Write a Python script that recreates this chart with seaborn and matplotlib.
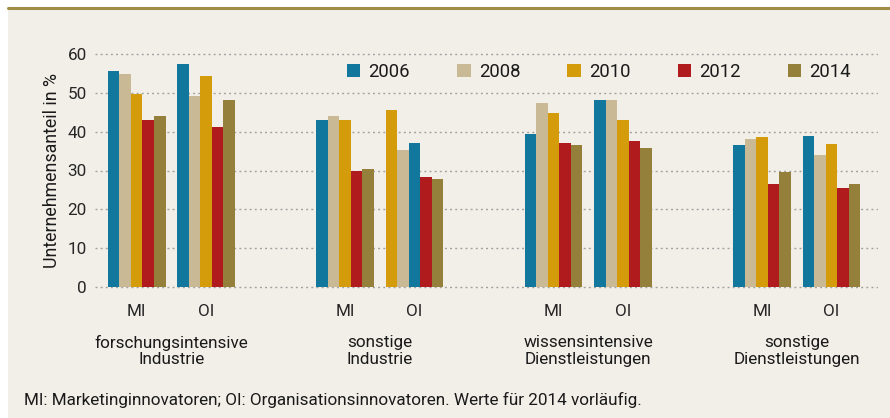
import matplotlib
matplotlib.use("Agg")
import matplotlib.pyplot as plt
from matplotlib.patches import Patch, Rectangle
from matplotlib.lines import Line2D
import seaborn as sns
import pandas as pd

# ---------------- data ----------------
categories = ["forschungsintensive\nIndustrie", "sonstige\nIndustrie",
              "wissensintensive\nDienstleistungen", "sonstige\nDienstleistungen"]
innov_types = ["MI", "OI"]
years = ["2006", "2008", "2010", "2012", "2014"]

# order of groups: fI-MI, fI-OI, sI-MI, sI-OI, wD-MI, wD-OI, sD-MI, sD-OI
v2006 = [55.5, 57.3, 42.9, 37.0, 39.3, 48.1, 36.5, 38.8]
v2008 = [54.9, 49.3, 43.9, 35.2, 47.5, 48.1, 38.0, 34.1]
v2010 = [49.8, 54.2, 42.9, 45.7, 44.7, 42.9, 38.5, 36.7]
v2012 = [43.1, 41.3, 30.0, 28.2, 37.0, 37.5, 26.4, 25.4]
v2014 = [44.1, 48.2, 30.5, 27.9, 36.5, 35.7, 29.5, 26.4]

# bar order inside each group (the original draws one group in a different order)
slot_orders = [years, years, years, ["2010", "2008", "2006", "2012", "2014"],
               years, years, years, years]

year_colors = {"2006": "#11779c", "2008": "#c9b994", "2010": "#d49c0b",
               "2012": "#b01c1e", "2014": "#94803a"}

footnote = "MI: Marketinginnovatoren; OI: Organisationsinnovatoren. Werte für 2014 vorläufig."
ylabel = "Unternehmensanteil in %"

# ---------------- build table ----------------
values = {"2006": v2006, "2008": v2008, "2010": v2010, "2012": v2012, "2014": v2014}
group_keys = [f"{c}|{t}" for c in range(len(categories)) for t in innov_types]
order = []
for c in range(len(categories)):
    order += [f"{c}|{t}" for t in innov_types]
    if c < len(categories) - 1:
        order.append(f"gap{c}")

rows = []
for gi, key in enumerate(group_keys):
    for slot, yr in enumerate(slot_orders[gi]):
        rows.append({"group": key, "slot": slot, "year": yr, "value": values[yr][gi]})
df = pd.DataFrame(rows)

# ---------------- style ----------------
BG = "#f2efe8"
sns.set_theme(style="white")
plt.rcParams["font.family"] = ["Roboto", "DejaVu Sans"]
plt.rcParams["text.color"] = "#1a1a1a"

fig = plt.figure(figsize=(8.9, 4.18), dpi=100)
fig.patch.set_facecolor("white")
W, H = 890, 418
# beige panel + olive top rule
fig.patches.append(Rectangle((8 / W, 0), 1 - 8 / W, 1 - 9 / H, transform=fig.transFigure,
                             facecolor=BG, edgecolor="none", zorder=-10))
fig.lines.append(Line2D([8 / W, 1], [1 - 7.5 / H, 1 - 7.5 / H], transform=fig.transFigure,
                        color="#a08c45", lw=2.2, zorder=-5))

ax = fig.add_axes([95 / W, 1 - 289 / H, (878 - 95) / W, (289 - 52) / H])
ax.set_facecolor("none")
ax.set_zorder(5)

sns.barplot(data=df, x="group", y="value", hue="slot", order=order,
            hue_order=list(range(5)), width=0.83, dodge=True, ax=ax,
            errorbar=None, saturation=1, legend=False, zorder=3)

# colour each bar by its year
for slot, cont in enumerate(ax.containers):
    for bar, key in zip(cont.patches, [k for k in order if not k.startswith("gap")]):
        yr = df[(df.group == key) & (df.slot == slot)].year.iloc[0]
        bar.set_facecolor(year_colors[yr])
        bar.set_edgecolor("none")

ax.set_ylim(-0.5, 60.5)
ax.set_xlim(-0.6, 10.67)
ax.set_yticks(range(0, 61, 10))
ax.grid(axis="y", color="#a0a0a0", lw=1.0, linestyle=(0, (1.4, 2.3)), zorder=0)
ax.set_axisbelow(True)
for s in ax.spines.values():
    s.set_visible(False)

tick_pos = [order.index(k) for k in group_keys]
ax.set_xticks(tick_pos)
ax.set_xticklabels([k.split("|")[1] for k in group_keys], fontsize=12.3)
ax.tick_params(axis="x", length=0, pad=11)
ax.tick_params(axis="y", length=0, pad=6, labelsize=12.3)
ax.set_xlabel("")
ax.set_ylabel("")

for c, name in enumerate(categories):
    xs = [order.index(f"{c}|{t}") for t in innov_types]
    ax.text(sum(xs) / len(xs), 1 - (351 - 52) / (289 - 52), name,
            transform=ax.get_xaxis_transform(), ha="center", va="center",
            fontsize=12.3, linespacing=1.1)

fig.text(52 / W, 1 - 170 / H, ylabel, rotation=90, ha="center", va="center", fontsize=12.8)
fig.text(24 / W, 1 - 400 / H, footnote, ha="left", va="center", fontsize=12.3)

handles = [Patch(facecolor=year_colors[y], edgecolor="none") for y in years]
ax.legend(handles, years, ncol=5, frameon=False, loc="center",
          bbox_to_anchor=(599 / W, 1 - 72 / H), bbox_transform=fig.transFigure,
          fontsize=13.3, handlelength=0.72, handleheight=0.72, handletextpad=0.45,
          columnspacing=2.55, borderpad=0)

fig.savefig("out.png", dpi=100, facecolor=fig.get_facecolor())
